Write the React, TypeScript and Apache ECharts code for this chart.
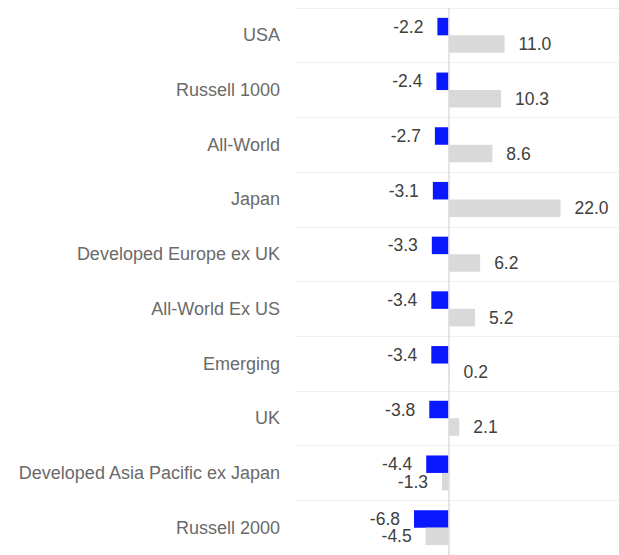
import React, { useEffect, useRef } from "react";
import * as echarts from "echarts";

const categories = [
  "USA",
  "Russell 1000",
  "All-World",
  "Japan",
  "Developed Europe ex UK",
  "All-World Ex US",
  "Emerging",
  "UK",
  "Developed Asia Pacific ex Japan",
  "Russell 2000",
];
const seriesA = [-2.2, -2.4, -2.7, -3.1, -3.3, -3.4, -3.4, -3.8, -4.4, -6.8];
const seriesB = [11.0, 10.3, 8.6, 22.0, 6.2, 5.2, 0.2, 2.1, -1.3, -4.5];

const FONT = "'Liberation Sans', Arial, Helvetica, sans-serif";

function toData(values: number[]) {
  return values.map((v) => ({
    value: v,
    label: { position: v < 0 ? "left" : "right" },
  }));
}

export default function App() {
  const ref = useRef<HTMLDivElement>(null);
  useEffect(() => {
    if (!ref.current) return;
    const chart = echarts.init(ref.current, undefined, { renderer: "svg" });
    const label = {
      show: true,
      distance: 14,
      color: "#404040",
      fontSize: 17.5,
      fontFamily: FONT,
      formatter: (p: any) => Number(p.value).toFixed(1),
    };
    chart.setOption({
      animation: false,
      grid: { left: 296, right: 0, top: 8, height: 550, containLabel: false },
      xAxis: {
        type: "value",
        min: -30,
        max: 33.5,
        show: false,
        splitLine: { show: false },
      },
      yAxis: {
        type: "category",
        inverse: true,
        data: categories,
        axisLine: { show: false },
        axisTick: { show: false },
        splitLine: { show: true, lineStyle: { color: "#efefef", width: 1 } },
        axisLabel: {
          color: "#6a6a6a",
          fontSize: 18,
          fontFamily: FONT,
          margin: 16,
        },
      },
      series: [
        {
          name: "A",
          type: "bar",
          data: toData(seriesA),
          barWidth: 17.5,
          barGap: "0%",
          itemStyle: { color: "#0a18ff" },
          label,
          markLine: {
            silent: true,
            symbol: "none",
            label: { show: false },
            lineStyle: { color: "#dcdcdc", type: "solid", width: 1.5 },
            data: [{ xAxis: 0 }],
          },
        },
        {
          name: "B",
          type: "bar",
          data: toData(seriesB),
          barWidth: 17.5,
          barGap: "0%",
          itemStyle: { color: "#d9d9d9" },
          label,
        },
      ],
    });
    return () => chart.dispose();
  }, []);
  return (
    <div
      ref={ref}
      style={{ position: "absolute", left: 0, top: 0, width: 619, height: 555 }}
    />
  );
}
